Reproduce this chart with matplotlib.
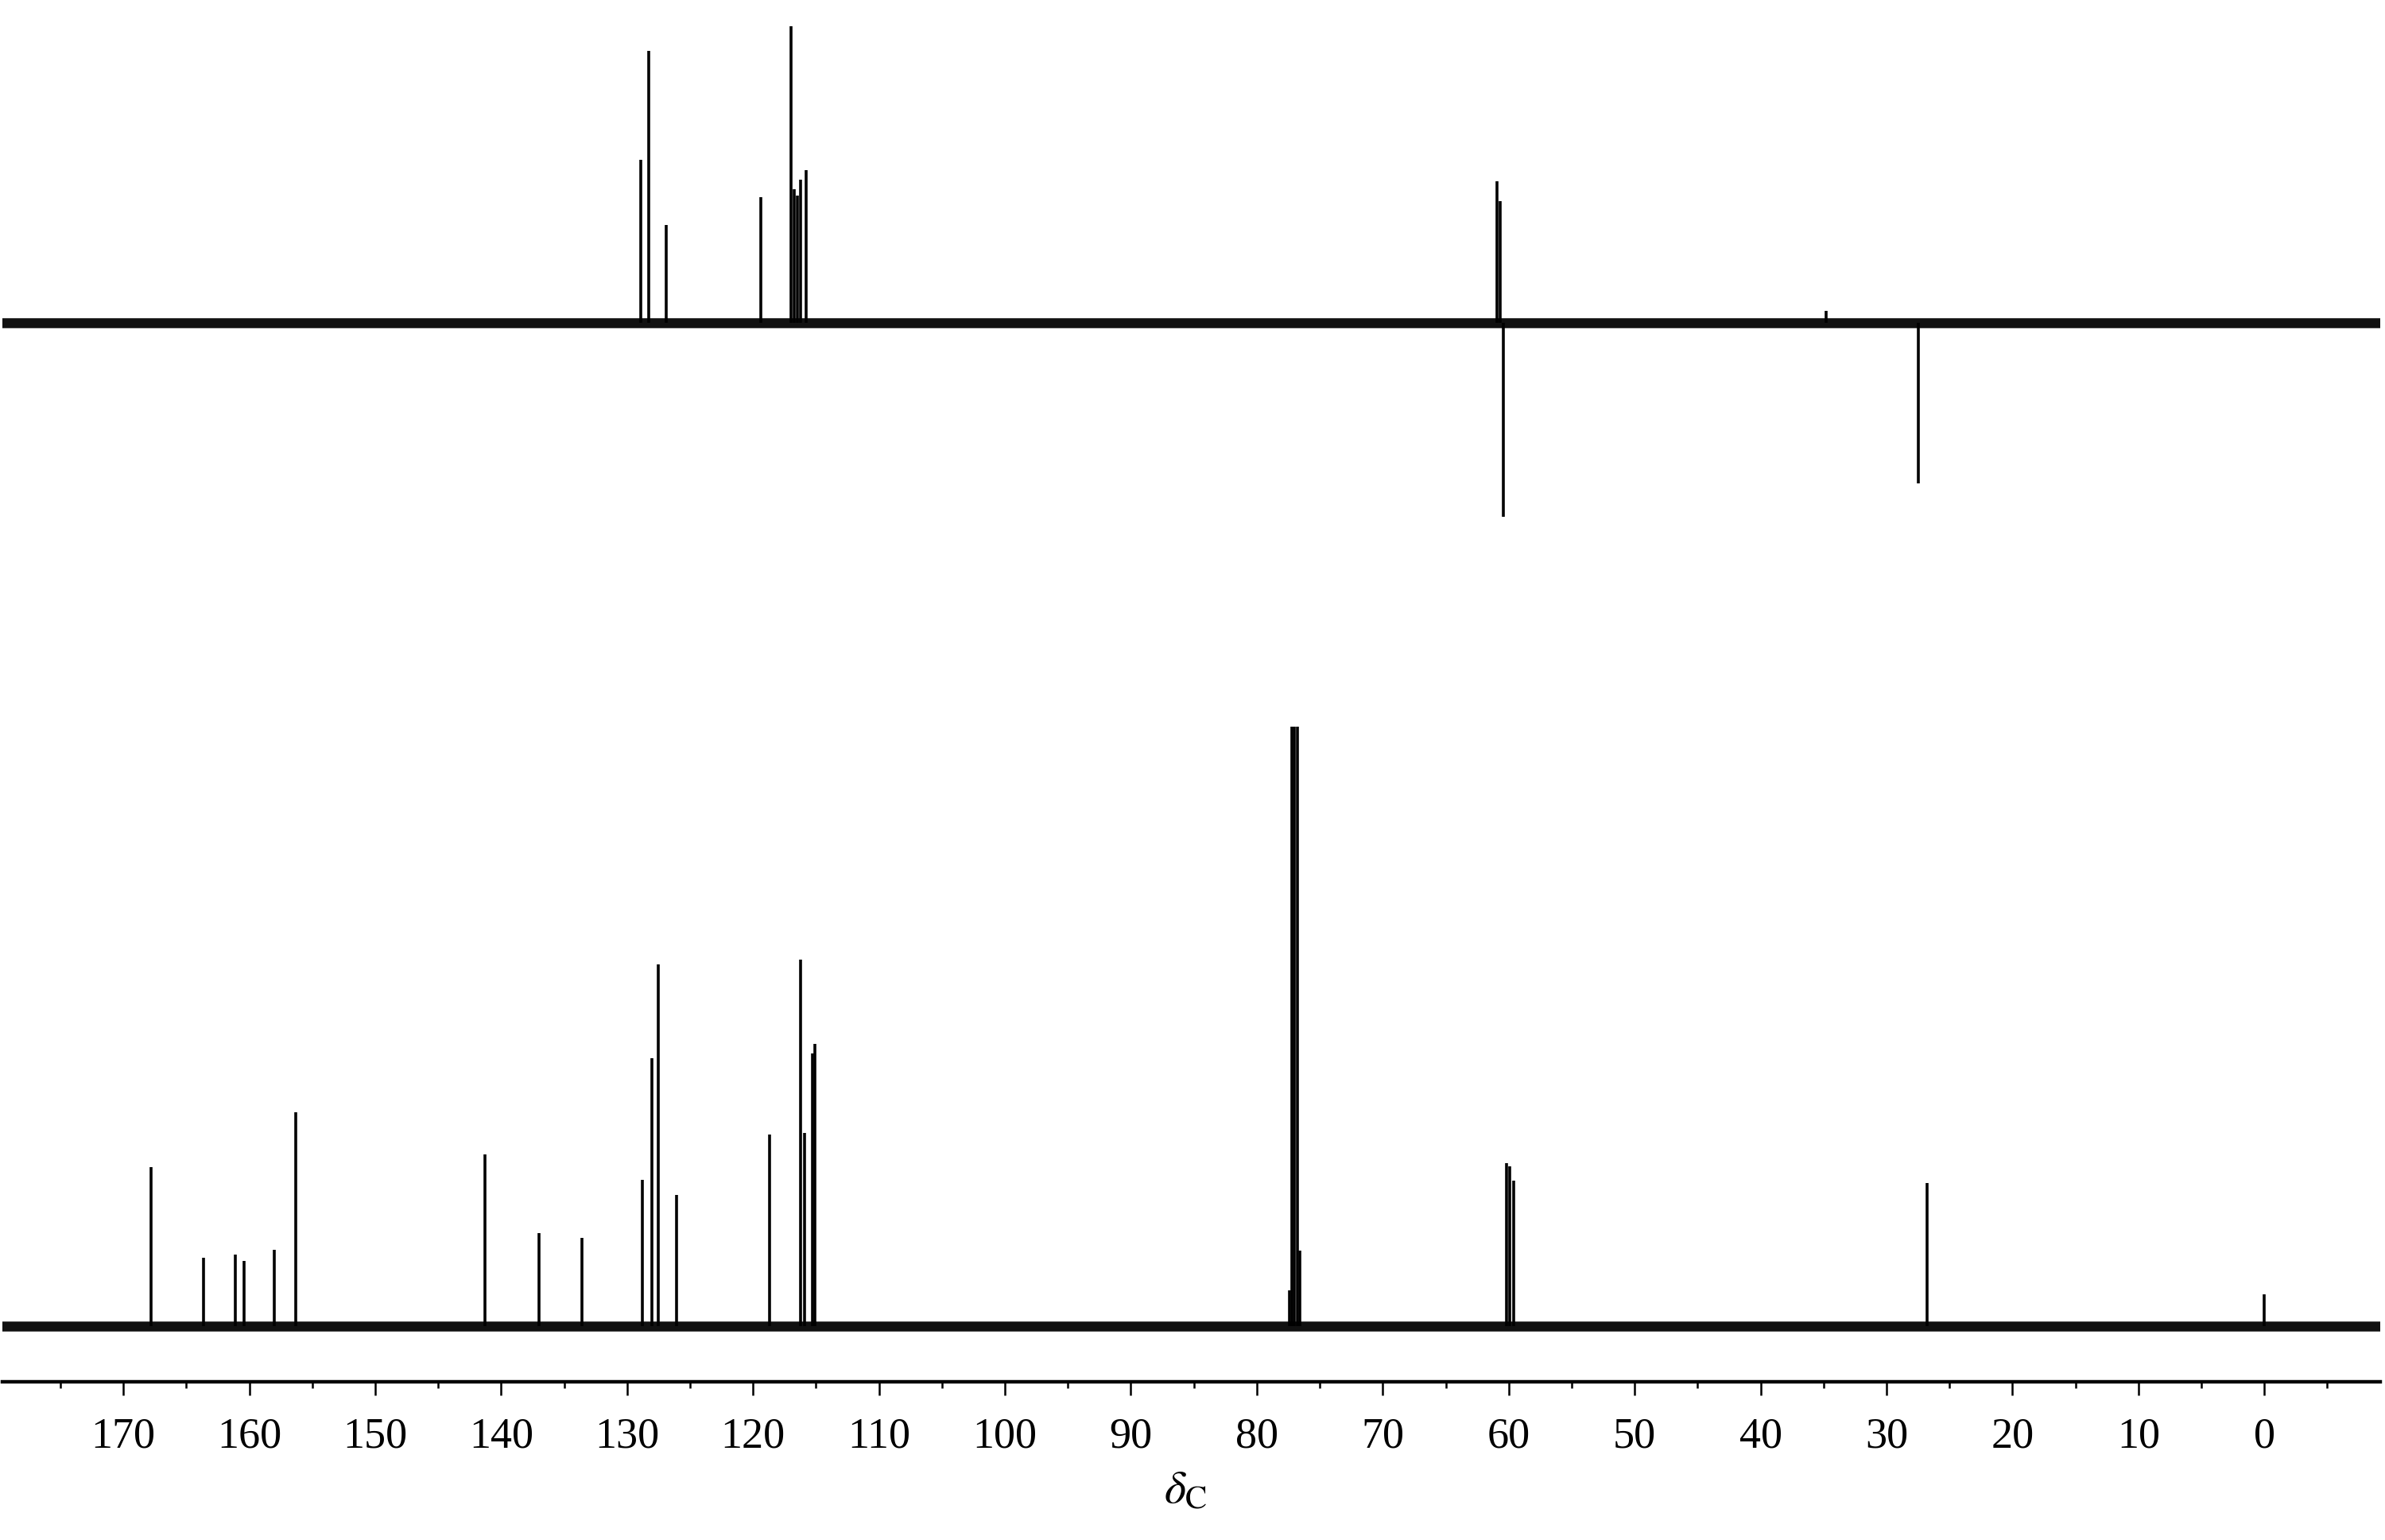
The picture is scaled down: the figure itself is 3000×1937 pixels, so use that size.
import matplotlib
matplotlib.use('Agg')
import matplotlib.pyplot as plt
from matplotlib.ticker import MultipleLocator, FixedLocator

plt.rcParams['font.family'] = ['Liberation Serif', 'DejaVu Serif']
plt.rcParams['mathtext.fontset'] = 'stix'

# 13C spectrum (bottom trace): chemical shift (ppm) and peak height (arb. units)
c13_shift = [167.8, 163.6, 161.1, 160.4, 158.0, 156.3, 141.3, 137.0, 133.6,
             128.8, 128.0, 127.5, 126.1, 118.7, 116.2, 115.9, 115.3, 115.1,
             60.2, 59.9, 59.6, 26.8, 0.0]
c13_height = [200, 86, 90, 82, 96, 269, 216, 117, 111,
              184, 337, 455, 165, 241, 461, 243, 343, 355,
              205, 201, 183, 180, 40]

# CDCl3 solvent triplet, runs off the top of the frame, with its foot
solvent_shift = [77.4, 77.2, 77.0, 76.8, 76.6]
solvent_height = [45, 1000, 1000, 1000, 95]

# DEPT-135 (top trace): CH/CH3 point up, CH2 point down
dept_shift = [128.9, 128.3, 126.9, 119.4, 117.0, 116.7, 116.5, 116.2, 115.8,
              60.9, 60.7, 60.4, 34.8, 27.5]
dept_height = [205, 342, 123, 158, 373, 168, 160, 180, 192,
               178, 153, -244, 15, -202]

XMAX, XMIN = 179.6, -9.2

fig = plt.figure(figsize=(15, 9.685), dpi=200)

# top: DEPT trace, no axes drawn
ax_top = fig.add_axes([0.001, 1 - 800 / 1937, 0.997, 800 / 1937])
ax_top.axhline(0, color='#111111', lw=4.5, zorder=1)
ax_top.vlines(dept_shift, 0, dept_height, color='k', lw=1.3, zorder=2)
ax_top.set_xlim(XMAX, XMIN)
ax_top.set_ylim(-394, 406)
ax_top.axis('off')

# bottom: 13C trace with the ppm scale
ax = fig.add_axes([0.001, 1 - 1738 / 1937, 0.997, (1738 - 914) / 1937])
ax.axhline(0, color='#111111', lw=4.5, zorder=1)
ax.vlines(c13_shift, 0, c13_height, color='k', lw=1.3, zorder=2)
ax.vlines(solvent_shift, 0, solvent_height, color='k', lw=1.3, zorder=2)
ax.set_xlim(XMAX, XMIN)
ax.set_ylim(-70, 754)

for s in ['top', 'left', 'right']:
    ax.spines[s].set_visible(False)
ax.spines['bottom'].set_linewidth(1.6)
ax.set_yticks([])
ax.xaxis.set_major_locator(FixedLocator(list(range(0, 171, 10))))
ax.xaxis.set_minor_locator(MultipleLocator(5))
ax.tick_params(axis='x', which='major', direction='out', length=6, width=0.9,
               labelsize=19.5, pad=10)
ax.tick_params(axis='x', which='minor', direction='out', length=3, width=0.9)

fig.text(0.497, 1 - 1877 / 1937, r'$\delta_{\mathrm{C}}$', fontsize=21,
         ha='center', va='center')

fig.savefig('out.png', dpi=200, facecolor='white')
